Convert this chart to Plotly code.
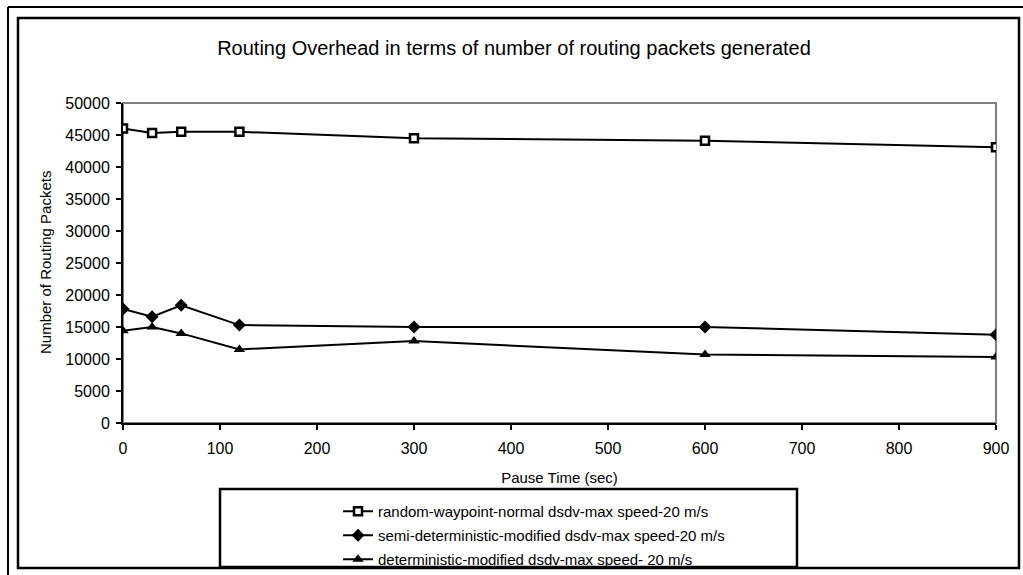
import plotly.graph_objects as go

# Pause time (sec) and routing packets generated per protocol variant
pause_time = [0, 30, 60, 120, 300, 600, 900]
random_waypoint = [46000, 45300, 45500, 45500, 44500, 44100, 43100]
semi_deterministic = [17800, 16600, 18400, 15300, 15000, 15000, 13800]
deterministic = [14400, 15000, 14000, 11500, 12800, 10700, 10300]

series_names = [
    "random-waypoint-normal dsdv-max speed-20 m/s",
    "semi-deterministic-modified dsdv-max speed-20 m/s",
    "deterministic-modified dsdv-max speed- 20 m/s",
]

W, H = 1023, 575
L, R, T, B = 123, 996, 103, 423  # plot area in pixels

def px(x):
    return (x - L) / (R - L)

def py(y):
    return (B - y) / (B - T)

FONT = "Liberation Sans, Arial, sans-serif"

fig = go.Figure()

fig.add_trace(go.Scatter(
    x=pause_time, y=random_waypoint, name=series_names[0], mode="lines+markers",
    line=dict(color="black", width=2), legendgroup="a",
    marker=dict(symbol="square", size=8, color="white", line=dict(color="black", width=2.5)),
))
fig.add_trace(go.Scatter(
    x=pause_time, y=semi_deterministic, name=series_names[1], mode="lines+markers",
    line=dict(color="black", width=2), legendgroup="b",
    marker=dict(symbol="diamond", size=10, color="black"),
))
fig.add_trace(go.Scatter(
    x=pause_time, y=deterministic, name=series_names[2], mode="lines+markers",
    line=dict(color="black", width=2), legendgroup="c",
    marker=dict(symbol="triangle-up", size=10, color="black"),
))

shapes = [
    # plot-area border (gray)
    dict(type="rect", xref="paper", yref="paper", x0=0, x1=1, y0=0, y1=1,
         line=dict(color="#808080", width=2), layer="below"),
    # outer page frame
    dict(type="line", xref="paper", yref="paper", x0=px(8), x1=px(8), y0=py(7), y1=py(580),
         line=dict(color="black", width=2)),
    dict(type="line", xref="paper", yref="paper", x0=px(8), x1=px(1030), y0=py(7), y1=py(7),
         line=dict(color="black", width=2)),
    # chart-area frame
    dict(type="rect", xref="paper", yref="paper", x0=px(18), x1=px(1019), y0=py(568), y1=py(18),
         line=dict(color="black", width=2.5)),
    # legend box
    dict(type="rect", xref="paper", yref="paper", x0=px(220), x1=px(797), y0=py(567), y1=py(489),
         line=dict(color="black", width=2.5)),
]

annotations = [
    # y-axis title
    dict(text="Number of Routing Packets", xref="paper", yref="paper",
         x=px(45), y=0.5, xanchor="center", yanchor="middle", textangle=-90,
         showarrow=False, font=dict(family=FONT, size=15, color="black")),
]

fig.update_layout(
    width=W, height=H,
    margin=dict(l=L, r=W - R, t=T, b=H - B, pad=0, autoexpand=False),
    paper_bgcolor="white", plot_bgcolor="white",
    font=dict(family=FONT, size=16, color="black"),
    title=dict(text="Routing Overhead in terms of number of routing packets generated",
               x=514 / W, xref="container", xanchor="center", y=1 - 48 / H, yanchor="middle",
               font=dict(family=FONT, size=20, color="black")),
    xaxis=dict(range=[0, 900], tick0=0, dtick=100, showgrid=False, zeroline=False,
               showline=True, linecolor="black", linewidth=2, automargin=True,
               ticks="outside", ticklen=5, tickwidth=2, tickcolor="black",
               tickfont=dict(size=16), ticklabelstandoff=5,
               title=dict(text="Pause Time (sec)", font=dict(size=15), standoff=16)),
    yaxis=dict(range=[0, 50000], tick0=0, dtick=5000, showgrid=False, zeroline=False,
               showline=True, linecolor="black", linewidth=2, automargin=True,
               tickformat="d",
               ticks="outside", ticklen=5, tickwidth=2, tickcolor="black",
               tickfont=dict(size=16), ticklabelstandoff=3),
    legend=dict(x=338 / W, xref="container", xanchor="left",
                y=1 - 495 / H, yref="container", yanchor="top",
                bgcolor="rgba(0,0,0,0)", borderwidth=0, tracegroupgap=1.5,
                font=dict(size=15)),
    showlegend=True,
    shapes=shapes,
    annotations=annotations,
)

fig.write_html("out.html")
